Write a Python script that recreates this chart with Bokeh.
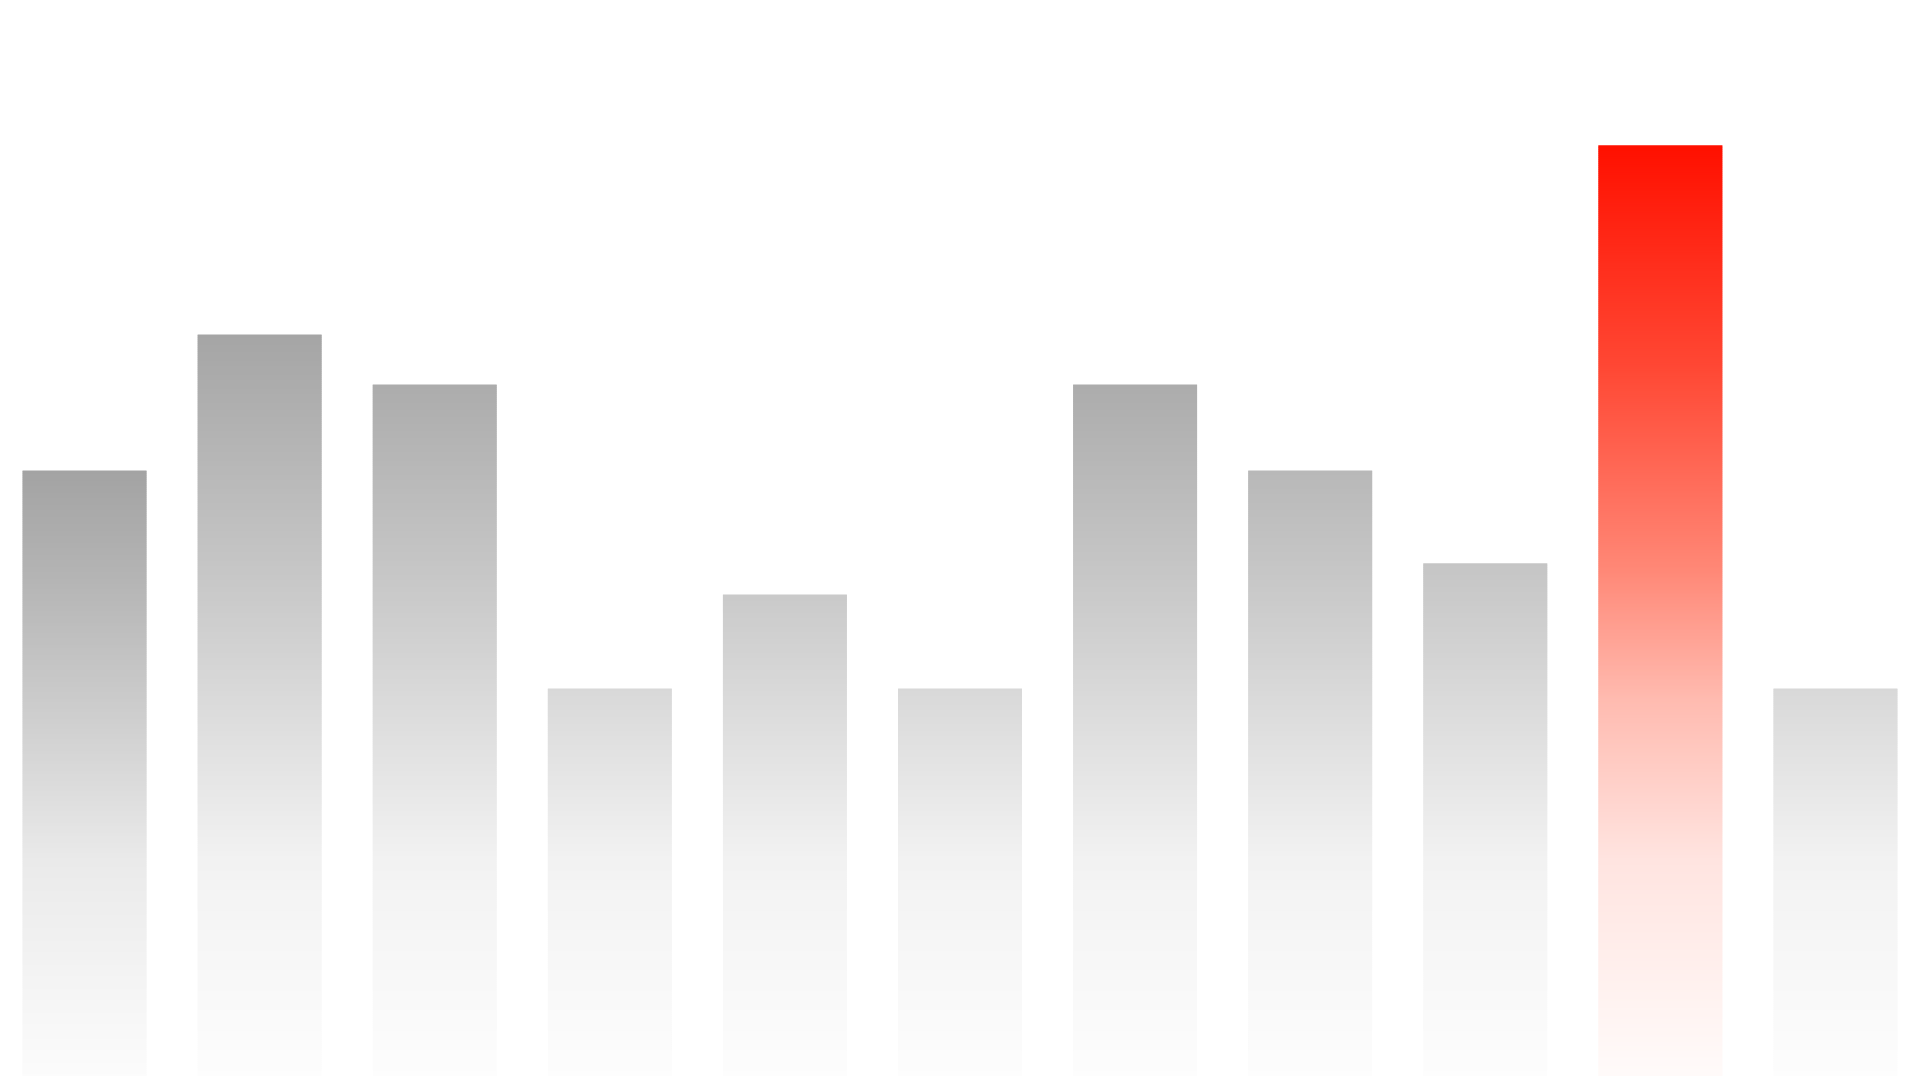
import numpy as np
from bokeh.plotting import figure
from bokeh.models import Range1d, ColumnDataSource
from bokeh.embed import file_html
from bokeh.resources import INLINE

# ---- data ----
categories = ["A", "B", "C", "D", "E", "F", "G", "H", "I", "J", "K"]
values = [61.0, 74.6, 69.6, 39.2, 48.6, 39.2, 69.6, 61.0, 51.7, 93.5, 39.2]

# ---- gradient definitions (value level -> colour channel) ----
grad_levels = [0.0, 22.0, 38.0, 51.0, 74.6, 100.0]
gray_main = [253, 242, 218, 198, 165, 150]
first_levels = [0.0, 22.0, 38.0, 51.0, 61.0, 100.0]
gray_first = [252, 234, 203, 179, 163, 120]
red_levels = [0.0, 22.0, 38.0, 51.0, 71.3, 93.5]
red_g = [251, 228, 187, 136, 72, 16]
red_b = [250, 224, 176, 119, 52, 0]

highlight_index = 9
first_index = 0


def colour_at(i, v):
    if i == highlight_index:
        g = int(round(np.interp(v, red_levels, red_g)))
        b = int(round(np.interp(v, red_levels, red_b)))
        return "#%02x%02x%02x" % (255, g, b)
    if i == first_index:
        c = int(round(np.interp(v, first_levels, gray_first)))
    else:
        c = int(round(np.interp(v, grad_levels, gray_main)))
    return "#%02x%02x%02x" % (c, c, c)


bar_width = 0.708
dv = 0.2
left, right, bottom, top, colors = [], [], [], [], []
for i, v in enumerate(values):
    k = 0.0
    while k < v:
        t = min(k + dv * 1.6, v)
        left.append(i - bar_width / 2)
        right.append(i + bar_width / 2)
        bottom.append(k)
        top.append(t)
        colors.append(colour_at(i, k + dv / 2))
        k += dv

src = ColumnDataSource(dict(left=left, right=right, bottom=bottom, top=top, color=colors))

p = figure(width=1912, height=1076, output_backend="svg", toolbar_location=None,
           x_range=Range1d(-0.48, 10.44), y_range=Range1d(0.4, 108.0),
           min_border=0, min_border_left=0, min_border_right=0,
           min_border_top=0, min_border_bottom=0)
p.quad(left="left", right="right", bottom="bottom", top="top", fill_color="color",
       line_color=None, source=src)

p.xaxis.visible = False
p.yaxis.visible = False
p.xgrid.visible = False
p.ygrid.visible = False
p.outline_line_color = None
p.background_fill_color = "white"
p.border_fill_color = "white"

open("out.html", "w").write(file_html(p, INLINE))
